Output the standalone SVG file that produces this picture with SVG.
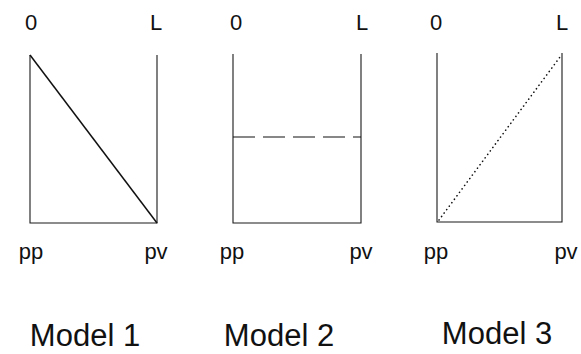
<svg xmlns="http://www.w3.org/2000/svg" width="581" height="354" viewBox="0 0 581 354">
  <style>
    .frame { fill: none; stroke: #1a1a1a; stroke-width: 1.1; }
    .curve { fill: none; stroke: #111; stroke-width: 1.5; }
    .dash { stroke-dasharray: 22 8; stroke-width: 1.2; }
    .dot { stroke-dasharray: 0.1 4.2; stroke-linecap: round; stroke-width: 1.6; }
    .lbl { font-family: "Liberation Sans", Arial, sans-serif; font-size: 22px; fill: #111; text-anchor: middle; }
    .title { font-family: "Liberation Sans", Arial, sans-serif; font-size: 31px; fill: #111; text-anchor: middle; }
  </style>
  <rect width="581" height="354" fill="#fff"/>

  <!-- Model 1: linear decrease from 0 to L -->
  <g id="model1">
    <path class="frame" d="M30,55 V223 H157 V55"/>
    <line class="curve" x1="30" y1="55" x2="157" y2="223"/>
    <text class="lbl" x="31" y="30">0</text>
    <text class="lbl" x="156" y="30">L</text>
    <text class="lbl" x="31" y="259">pp</text>
    <text class="lbl" x="156" y="259">pv</text>
    <text class="title" x="85" y="346">Model 1</text>
  </g>

  <!-- Model 2: constant level -->
  <g id="model2">
    <path class="frame" d="M233,54 V223 H361 V54"/>
    <line class="curve dash" x1="233" y1="137" x2="361" y2="137"/>
    <text class="lbl" x="236" y="30">0</text>
    <text class="lbl" x="362" y="30">L</text>
    <text class="lbl" x="232" y="259">pp</text>
    <text class="lbl" x="361" y="259">pv</text>
    <text class="title" x="279" y="346">Model 2</text>
  </g>

  <!-- Model 3: linear increase from 0 to L -->
  <g id="model3">
    <path class="frame" d="M437,53 V222 H562 V53"/>
    <line class="curve dot" x1="439" y1="220" x2="560" y2="57"/>
    <text class="lbl" x="436" y="30">0</text>
    <text class="lbl" x="562" y="30">L</text>
    <text class="lbl" x="436" y="259">pp</text>
    <text class="lbl" x="566" y="259">pv</text>
    <text class="title" x="497" y="344">Model 3</text>
  </g>
</svg>
